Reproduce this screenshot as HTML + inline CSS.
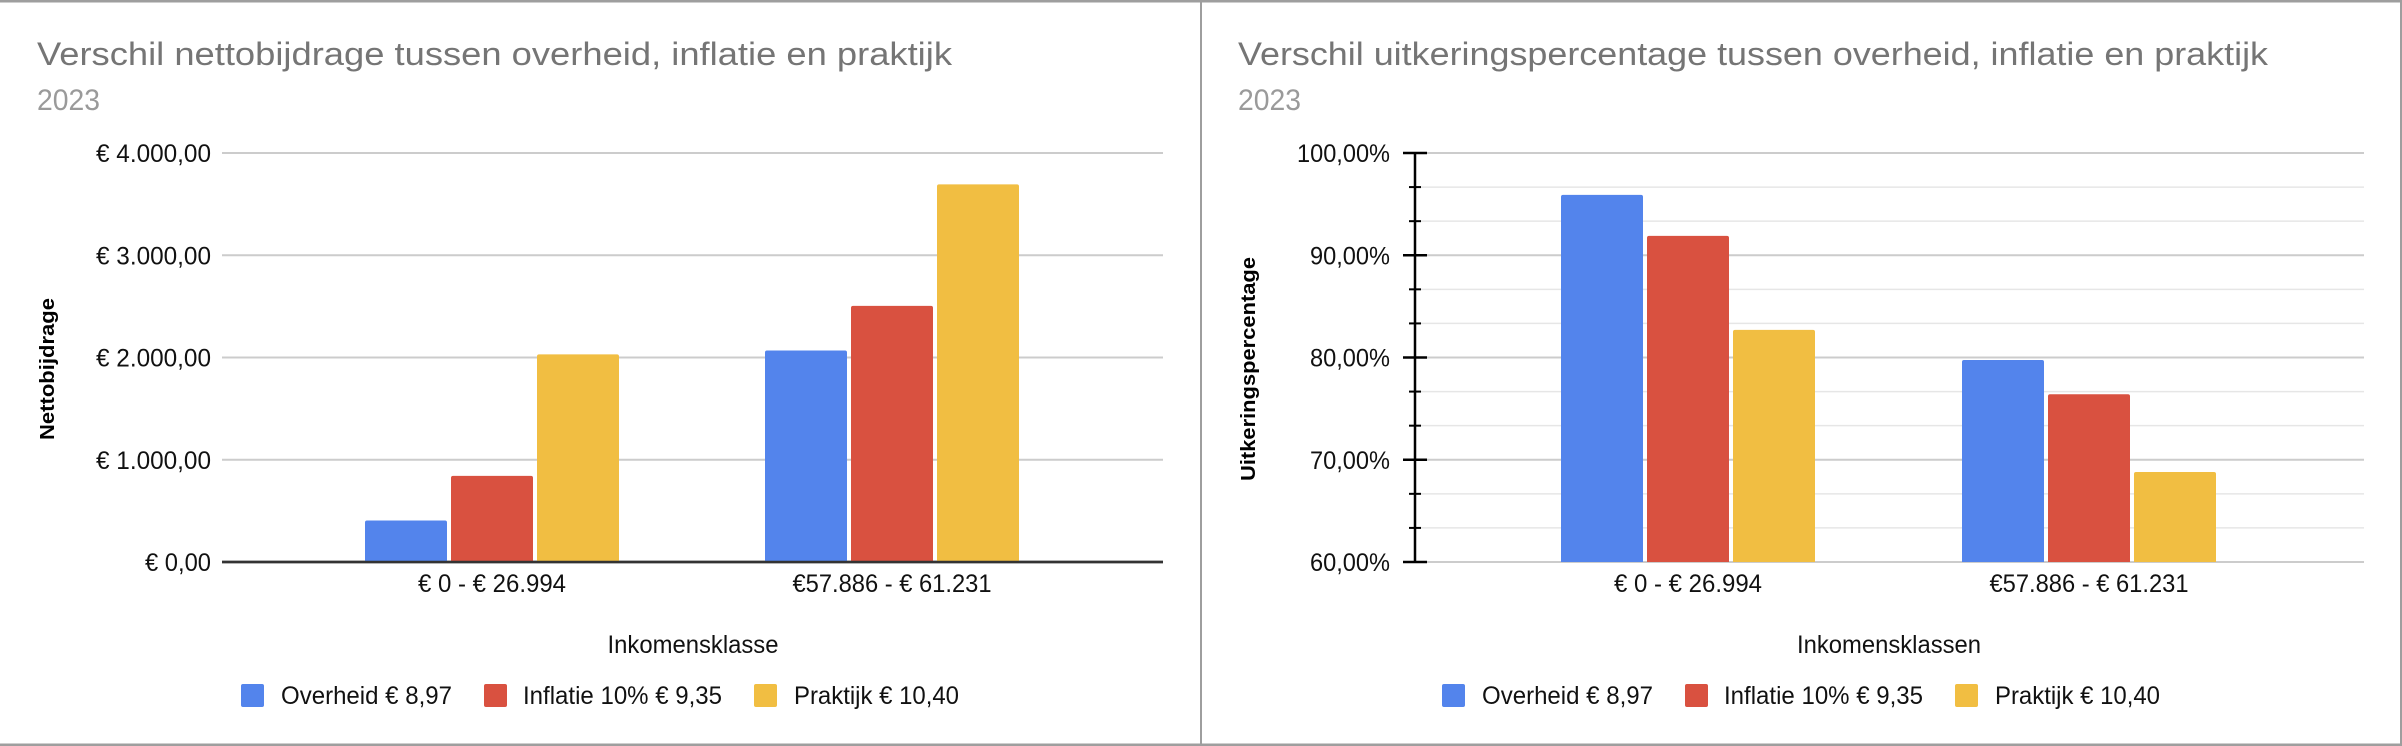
<!DOCTYPE html>
<html><head><meta charset="utf-8"><style>
html,body{margin:0;padding:0;background:#fff;}
svg{display:block;font-family:"Liberation Sans",Arial,sans-serif;}
</style></head><body>
<svg id="root" width="2402" height="746" viewBox="0 0 2402 746" xmlns="http://www.w3.org/2000/svg">
<rect x="0" y="0" width="2402" height="746" fill="#fff"/>
<rect x="0" y="0" width="2402" height="2.5" fill="#9e9e9e"/>
<rect x="0" y="743.5" width="2402" height="2.5" fill="#9e9e9e"/>
<rect x="1200" y="0" width="2" height="746" fill="#9e9e9e"/>
<rect x="2400" y="0" width="2" height="746" fill="#9e9e9e"/>
</svg>
<script>
const categories = ["€ 0 - € 26.994", "€57.886 - € 61.231"];
const seriesNames = ["Overheid € 8,97", "Inflatie 10% € 9,35", "Praktijk € 10,40"];
const nettoOverheid = [406, 2068];
const nettoInflatie = [842, 2505];
const nettoPraktijk = [2030, 3693];
const nettoTicks = [0, 1000, 2000, 3000, 4000];
const nettoTickLabels = ["€ 0,00", "€ 1.000,00", "€ 2.000,00", "€ 3.000,00", "€ 4.000,00"];
const pctOverheid = [95.9, 79.75];
const pctInflatie = [91.9, 76.4];
const pctPraktijk = [82.7, 68.8];
const pctTicks = [60, 70, 80, 90, 100];
const pctTickLabels = ["60,00%", "70,00%", "80,00%", "90,00%", "100,00%"];
const colors = ["#5384ec", "#d95140", "#f1be42"];

const NS = "http://www.w3.org/2000/svg";
const root = document.getElementById('root');
function el(tag, attrs, parent, text){
  const e = document.createElementNS(NS, tag);
  for (const k in attrs) e.setAttribute(k, attrs[k]);
  if (text !== undefined) e.textContent = text;
  (parent || root).appendChild(e);
  return e;
}

function drawChart(o){
  const g = el('g', {});
  
  
  const ox = o.ox;
  const yTop = 153, yBot = 562;
  const y = v => yBot - (v - o.min) / (o.max - o.min) * (yBot - yTop);
  const t = el('text', {x: ox + 37, y: 65, 'font-size': 32, fill: '#757575', textLength: o.titleW, lengthAdjust: 'spacingAndGlyphs'}, g, o.title);
  
  
  const s = el('text', {x: ox + 37, y: 110, 'font-size': 30, fill: '#9a9a9a', textLength: 63, lengthAdjust: 'spacingAndGlyphs'}, g, '2023');
  
  
  // minor gridlines
  if (o.minor) {
    const step = (o.ticks[1] - o.ticks[0]) / 3;
    for (let v = o.min; v <= o.max + 1e-6; v += step) {
      const ln = el('line', {x1: o.px0, x2: o.px1, y1: y(v), y2: y(v), stroke: '#e6e6e6', 'stroke-width': 1.5}, g);
      
      
      const tk = el('line', {x1: o.axisX - 6, x2: o.axisX + 6, y1: y(v), y2: y(v), stroke: '#000', 'stroke-width': 2}, g);
      
      
    }
  }
  o.ticks.forEach((v, i) => {
    const ln = el('line', {x1: o.px0, x2: o.px1, y1: y(v), y2: y(v), stroke: (i === 0 && !o.minor) ? '#333' : '#cccccc', 'stroke-width': (i === 0 && !o.minor) ? 2.5 : 2}, g);
    
    
    const tl = el('text', {x: o.labelX, y: y(v) + 9, 'font-size': 25, 'text-anchor': 'end', fill: '#111', textLength: o.tickW[i], lengthAdjust: 'spacingAndGlyphs'}, g, o.tickLabels[i]);
    
    
    if (o.minor) {
      const tk = el('line', {x1: o.axisX - 12, x2: o.axisX + 12, y1: y(v), y2: y(v), stroke: '#000', 'stroke-width': 2.5}, g);
      
      
    }
  });
  if (o.minor) {
    const ax = el('line', {x1: o.axisX, x2: o.axisX, y1: yTop, y2: yBot, stroke: '#000', 'stroke-width': 2.5}, g);
    
    
  }
  const bw = 82, gap = 4;
  categories.forEach((c, ci) => {
    const cx = o.c0 + ci * o.cstep;
    o.series.forEach((arr, si) => {
      const x0 = cx - (3 * bw + 2 * gap) / 2 + si * (bw + gap);
      const top = y(arr[ci]);
      const b = el('path', {d: `M${x0} ${yBot} V${top + 2} Q${x0} ${top} ${x0 + 2} ${top} H${x0 + bw - 2} Q${x0 + bw} ${top} ${x0 + bw} ${top + 2} V${yBot} Z`, fill: colors[si]}, g);
      
      
    });
    const cl = el('text', {x: cx, y: 592, 'font-size': 25, 'text-anchor': 'middle', fill: '#111', textLength: ci === 0 ? 148 : 199, lengthAdjust: 'spacingAndGlyphs'}, g, c);
    
    
  });
  if (!o.minor) {
    const base = el('line', {x1: o.px0, x2: o.px1, y1: yBot, y2: yBot, stroke: '#333', 'stroke-width': 2.5}, g);
    
    
  }
  const yt = el('text', {x: 0, y: 0, 'font-size': 20, 'text-anchor': 'middle', fill: '#000', 'font-weight': 'bold', transform: `translate(${ox + 54},${o.ytY}) rotate(-90)`, textLength: o.ytW, lengthAdjust: 'spacingAndGlyphs'}, g, o.yTitle);
  
  
  const xt = el('text', {x: o.xtX, y: 653, 'font-size': 25, 'text-anchor': 'middle', fill: '#111', textLength: o.xtW, lengthAdjust: 'spacingAndGlyphs'}, g, o.xTitle);
  
  
  const legSq = [ox + 241, ox + 484, ox + 754];
  const legTx = [ox + 281, ox + 523, ox + 794];
  const legW = [171, 199, 165];
  seriesNames.forEach((n, i) => {
    const lg = el('g', {}, g);
    
    
    el('rect', {x: legSq[i], y: 684, width: 23, height: 23, rx: 2, fill: colors[i]}, lg);
    el('text', {x: legTx[i], y: 704, 'font-size': 25, fill: '#111', textLength: legW[i], lengthAdjust: 'spacingAndGlyphs'}, lg, n);
  });
}

drawChart({name: 'nettobijdrage-chart', ox: 0, title: 'Verschil nettobijdrage tussen overheid, inflatie  en praktijk', titleW: 915,
  min: 0, max: 4000, ticks: nettoTicks, tickLabels: nettoTickLabels, tickW: [66, 115, 115, 115, 115],
  px0: 222, px1: 1163, labelX: 211, minor: false, c0: 492, cstep: 400,
  series: [nettoOverheid, nettoInflatie, nettoPraktijk],
  yTitle: 'Nettobijdrage', ytY: 369, ytW: 142, xTitle: 'Inkomensklasse', xtX: 693, xtW: 171});

drawChart({name: 'uitkeringspercentage-chart', ox: 1201, title: 'Verschil uitkeringspercentage tussen overheid, inflatie en praktijk', titleW: 1030,
  min: 60, max: 100, ticks: pctTicks, tickLabels: pctTickLabels, tickW: [80, 80, 80, 80, 93],
  px0: 1415, px1: 2364, labelX: 1390, minor: true, axisX: 1415, c0: 1688, cstep: 401,
  series: [pctOverheid, pctInflatie, pctPraktijk],
  yTitle: 'Uitkeringspercentage', ytY: 369, ytW: 224, xTitle: 'Inkomensklassen', xtX: 1889, xtW: 184});
</script>
</body></html>
